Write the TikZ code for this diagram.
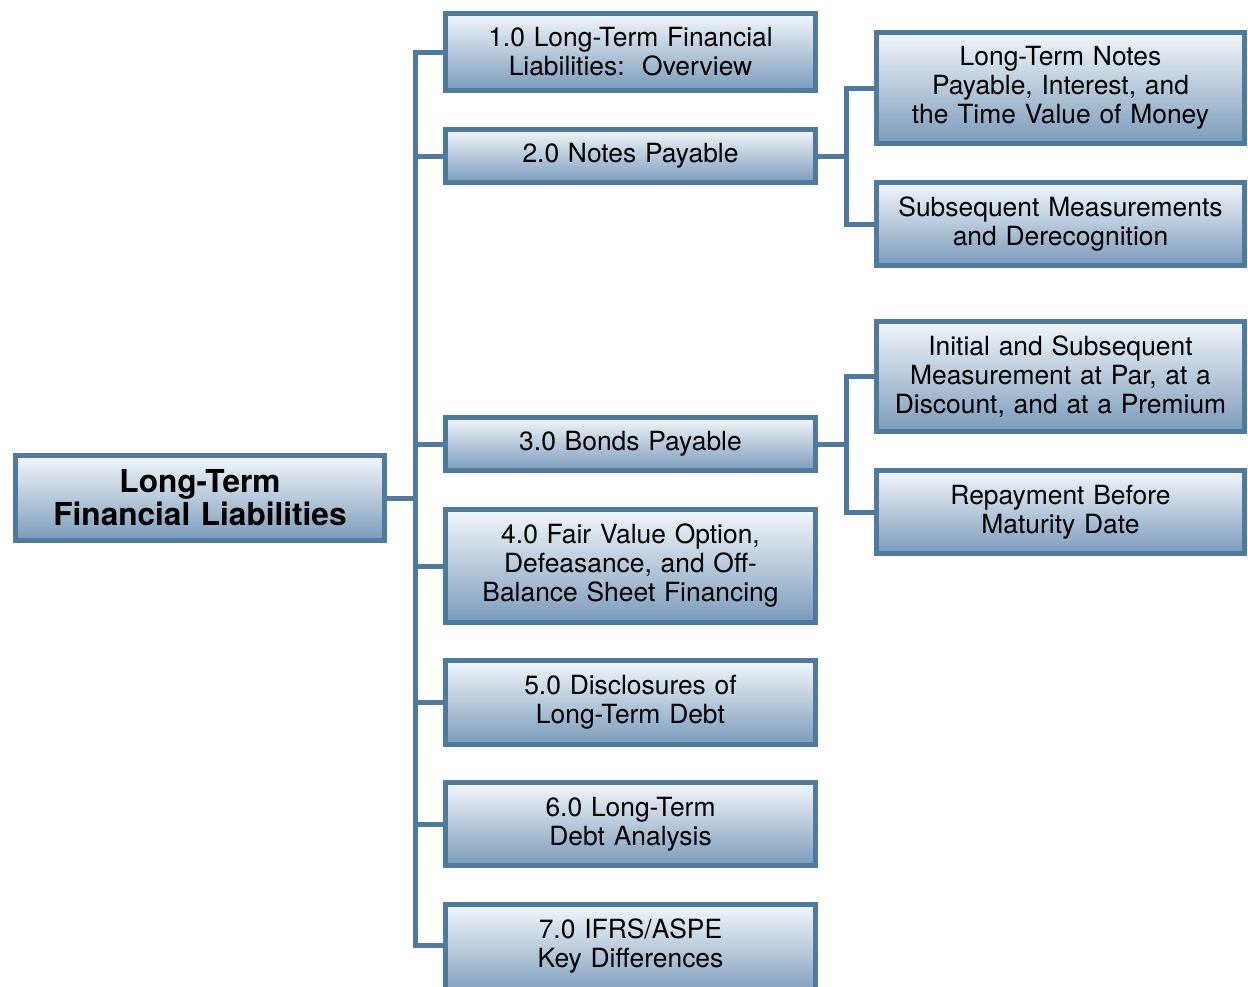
\documentclass[tikz,border=0pt]{standalone}
\usepackage{fontspec}
\setmainfont{TeX Gyre Heros}
\definecolor{edge}{HTML}{4E7AA0}
\definecolor{topc}{HTML}{F3F6FA}
\definecolor{botc}{HTML}{7A9BBB}
\begin{document}
\begin{tikzpicture}[x=0.5pt,y=-0.5pt,
  box/.style={draw=edge, line width=2.5pt, top color=topc, bottom color=botc,
    shading angle=0, align=center, inner sep=0pt, text=black,
    font=\fontsize{13.2pt}{14.5pt}\selectfont},
  midbox/.style={box, minimum width=185pt, text width=180pt},
  rightbox/.style={box, minimum width=184pt, text width=180pt},
  link/.style={draw=edge, line width=2.5pt}]
\useasboundingbox (0,0) rectangle (1248,986);
\clip (0,0) rectangle (1248,986);
\node[box, minimum width=184.5pt, minimum height=42.5pt, text width=180pt,
  font=\bfseries\fontsize{15.8pt}{16.5pt}\selectfont] (main) at (200,498) {Long-Term\\Financial Liabilities};
\node[midbox, minimum height=38.5pt] (b1) at (630.5,52) {1.0 Long-Term Financial\\Liabilities:\ \ Overview};
\node[midbox, minimum height=26.5pt] (b2) at (630.5,156) {2.0 Notes Payable};
\node[midbox, minimum height=26.5pt] (b3) at (630.5,444) {3.0 Bonds Payable};
\node[midbox, minimum height=56.5pt] (b4) at (630.5,566) {4.0 Fair Value Option,\\Defeasance, and Off-\\Balance Sheet Financing};
\node[midbox, minimum height=42pt] (b5) at (630.5,702.5) {5.0 Disclosures of\\Long-Term Debt};
\node[midbox, minimum height=41.5pt] (b6) at (630.5,824) {6.0 Long-Term\\Debt Analysis};
\node[midbox, minimum height=46pt] (b7) at (630.5,950.5) {7.0 IFRS/ASPE\\Key Differences\\[-7.25pt]\mbox{}};
\node[rightbox, minimum height=55.5pt] (r1) at (1060.5,88) {Long-Term Notes\\Payable, Interest, and\\the Time Value of Money};
\node[rightbox, minimum height=41.5pt] (r2) at (1060.5,224) {Subsequent Measurements\\and Derecognition};
\node[rightbox, minimum height=55pt] (r3) at (1060.5,376.5) {Initial and Subsequent\\Measurement at Par, at a\\Discount, and at a Premium};
\node[rightbox, minimum height=41.5pt] (r4) at (1060.5,512) {Repayment Before\\Maturity Date};
\coordinate (sp) at (415,498);
\coordinate (j2) at (846,156);
\coordinate (j3) at (846,444);
\draw[link] (main.east) -- (sp);
\draw[link] (b1.west) -| (sp) |- (b7.west |- 0,945);
\foreach \n in {b2,b3,b4,b5,b6} \draw[link] (\n.west) -- (\n.west -| sp);
\draw[link] (b2.east) -- (j2);
\draw[link] (r1.west) -| (j2) |- (r2.west);
\draw[link] (b3.east) -- (j3);
\draw[link] (r3.west) -| (j3) |- (r4.west);
\end{tikzpicture}
\end{document}
